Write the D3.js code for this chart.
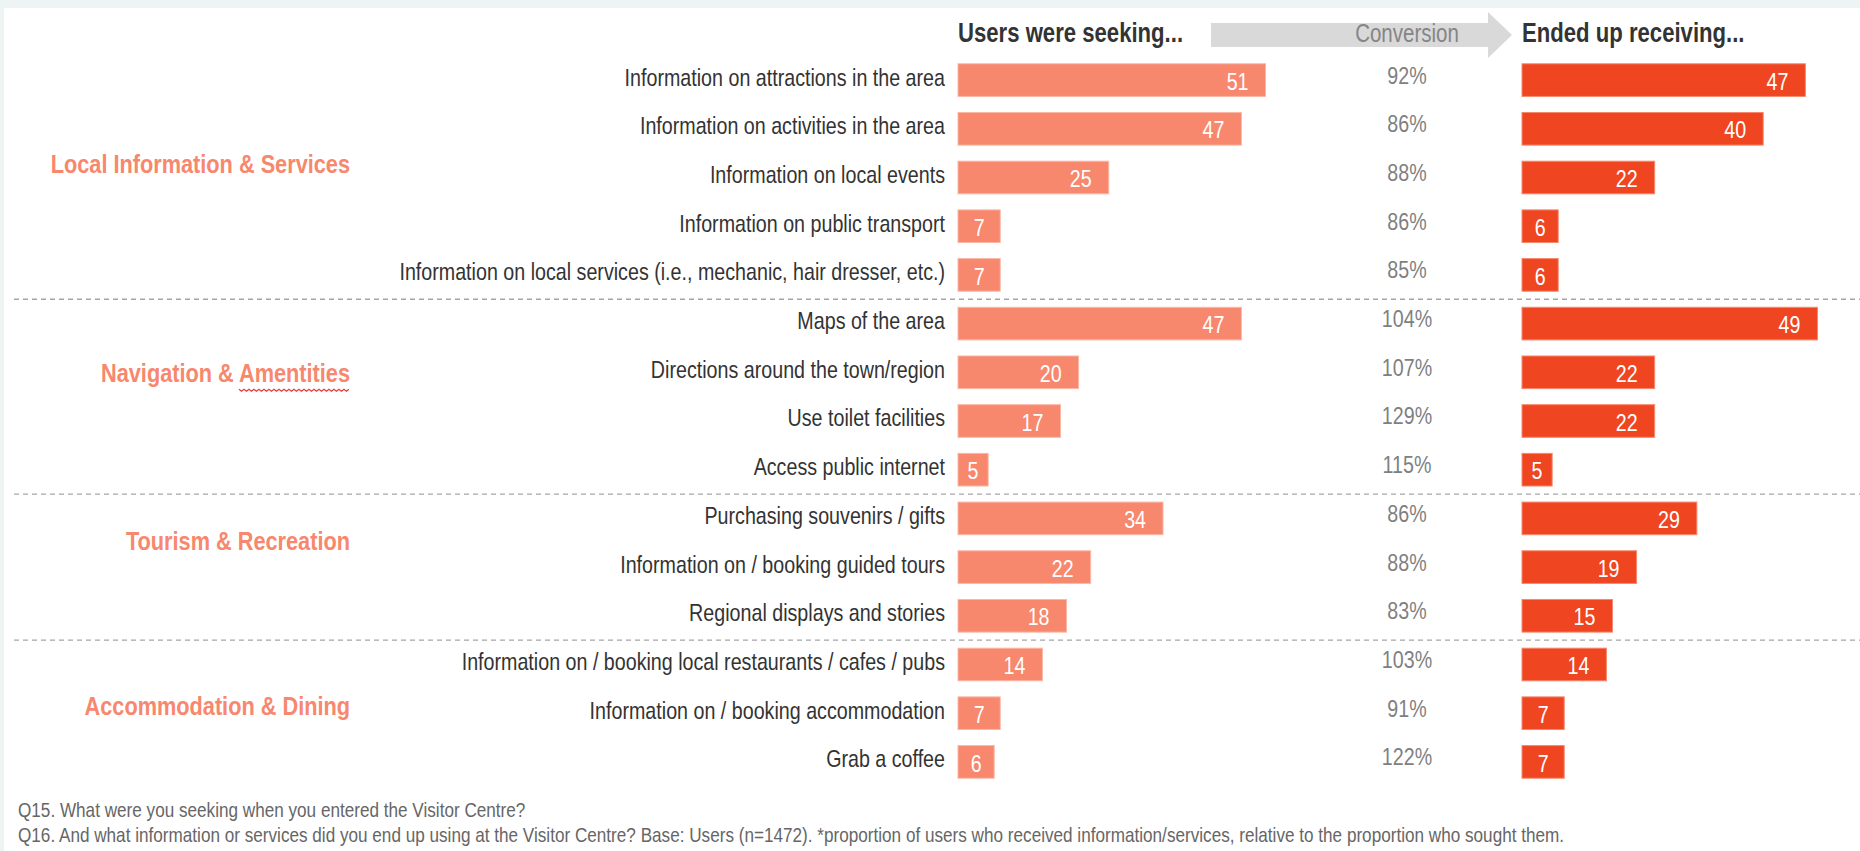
<!DOCTYPE html>
<html>
<head>
<meta charset="utf-8">
<script src="https://cdn.jsdelivr.net/npm/d3@7"></script>
<style>
  body { margin: 0; background: #fff; }
  svg text { font-family: "Liberation Sans", Arial, sans-serif; }
</style>
</head>
<body>
<div id="chart"></div>
<script>
// groups and their items
var groups = ["Local Information & Services", "Navigation & Amentities", "Tourism & Recreation", "Accommodation & Dining"];
var groupOf = [0, 0, 0, 0, 0, 1, 1, 1, 1, 2, 2, 2, 3, 3, 3];
var items = [
	"Information on attractions in the area",
	"Information on activities in the area",
	"Information on local events",
	"Information on public transport",
	"Information on local services (i.e., mechanic, hair dresser, etc.)",
	"Maps of the area",
	"Directions around the town/region",
	"Use toilet facilities",
	"Access public internet",
	"Purchasing souvenirs / gifts",
	"Information on / booking guided tours",
	"Regional displays and stories",
	"Information on / booking local restaurants / cafes / pubs",
	"Information on / booking accommodation",
	"Grab a coffee"
];
var seeking = [51, 47, 25, 7, 7, 47, 20, 17, 5, 34, 22, 18, 14, 7, 6];
var received = [47, 40, 22, 6, 6, 49, 22, 22, 5, 29, 19, 15, 14, 7, 7];
var conversion = ["92%", "86%", "88%", "86%", "85%", "104%", "107%", "129%", "115%", "86%", "88%", "83%", "103%", "91%", "122%"];
var headers = ["Users were seeking...", "Conversion", "Ended up receiving..."];
var notes = [
	"Q15. What were you seeking when you entered the Visitor Centre?",
	"Q16. And what information or services did you end up using at the Visitor Centre? Base: Users (n=1472). *proportion of users who received information/services, relative to the proportion who sought them."
];

var W = 1860, H = 851;
var seekCol = "#f7876d", recCol = "#ef4520", grpCol = "#f7876d";
var NX = 0.82; // horizontal squeeze to mimic a narrow typeface

var svg = d3.select("#chart").append("svg")
	.attr("width", W)
	.attr("height", H);

// put a text at x,y and squeeze it sideways
function place(sel, x, y) {
	return sel.attr("transform", function(d, i) {
		var xx = typeof x == "function" ? x(d, i) : x;
		var yy = typeof y == "function" ? y(d, i) : y;
		return "translate(" + xx + "," + yy + ") scale(" + NX + ",1)";
	});
}

// light frame at top and left
svg.append("rect").attr("width", W).attr("height", H).attr("fill", "#eef4f4");
svg.append("rect").attr("x", 4).attr("y", 8).attr("width", W - 4).attr("height", H - 8).attr("fill", "#fff");

var y = d3.scaleBand()
	.domain(d3.range(items.length))
	.range([56, 786])
	.paddingInner(0.33)
	.paddingOuter(0.16);

var xSeek = d3.scaleLinear().domain([0, 100]).range([958, 1561]);
var xRec = d3.scaleLinear().domain([0, 100]).range([1522, 2125]);
var convX = 1407;

// dashed separators between groups
var seps = [];
for (var i = 1; i < items.length; i++) {
	if (groupOf[i] != groupOf[i - 1]) seps.push((y(i - 1) + y.bandwidth() + y(i)) / 2);
}
svg.selectAll(".sep").data(seps).enter().append("line")
	.attr("x1", 14).attr("x2", W)
	.attr("y1", function(d) { return d; }).attr("y2", function(d) { return d; })
	.style("stroke", "#a6a6a6")
	.style("stroke-width", 1.3)
	.style("stroke-dasharray", "5,4");

// header: arrow + titles
var ah = svg.append("g");
ah.append("path")
	.attr("d", "M1211,23 L1488,23 L1488,12 L1512,35 L1488,58 L1488,47 L1211,47 Z")
	.attr("fill", "#d9d9d9");
place(ah.append("text"), 958, 42)
	.attr("font-size", 27).attr("font-weight", "bold").attr("fill", "#333")
	.text(headers[0]);
place(ah.append("text"), convX, 42).attr("text-anchor", "middle")
	.attr("font-size", 25).attr("fill", "#858585")
	.text(headers[1]);
place(ah.append("text"), 1522, 42)
	.attr("font-size", 27).attr("font-weight", "bold").attr("fill", "#333")
	.text(headers[2]);

var row = svg.selectAll(".row")
	.data(items)
	.enter().append("g")
	.attr("class", "row")
	.attr("transform", function(d, i) { return "translate(0," + y(i) + ")"; });

var bh = y.bandwidth();

place(row.append("text"), 945, bh / 2 - 3)
	.attr("dy", "0.35em")
	.attr("text-anchor", "end")
	.attr("font-size", 24).attr("fill", "#333")
	.text(function(d) { return d; });

function addBars(vals, xs, col, stroke) {
	row.append("rect")
		.attr("x", xs(0))
		.attr("y", 0)
		.attr("width", function(d, i) { return xs(vals[i]) - xs(0); })
		.attr("height", bh)
		.attr("fill", col)
		.attr("stroke", stroke)
		.attr("stroke-width", 1);
	place(row.append("text"), function(d, i) {
			var w = xs(vals[i]) - xs(0);
			return w < 45 ? xs(0) + w / 2 : xs(vals[i]) - 17;
		}, bh / 2 + 1)
		.attr("dy", "0.36em")
		.attr("text-anchor", function(d, i) { return xs(vals[i]) - xs(0) < 45 ? "middle" : "end"; })
		.attr("font-size", 24).attr("fill", "#fff")
		.text(function(d, i) { return vals[i]; });
}
addBars(seeking, xSeek, seekCol, "#fbb7a6");
addBars(received, xRec, recCol, "#f6886c");

place(row.append("text"), convX, bh / 2 - 5)
	.attr("dy", "0.35em")
	.attr("text-anchor", "middle")
	.attr("font-size", 24).attr("fill", "#7f7f7f")
	.text(function(d, i) { return conversion[i]; });

// group labels (row position where each label sits)
var labelRow = [1.72, 6.0, 9.45, 12.85];
var gl = place(svg.selectAll(".grp").data(groups).enter().append("text"), 350,
		function(d, i) { return y(0) + bh / 2 + labelRow[i] * y.step(); })
	.attr("class", "grp")
	.attr("dy", "0.35em")
	.attr("text-anchor", "end")
	.attr("font-size", 26.5).attr("font-weight", "bold").attr("fill", grpCol)
	.text(function(d) { return d; });

// spell-check squiggle under "Amentities"
var navNode = gl.filter(function(d, i) { return i == 1; }).node();
var full = navNode.getComputedTextLength() * NX;
var start = navNode.getSubStringLength(0, groups[1].indexOf("Amentities")) * NX;
var sx = 350 - full + start, ex = 350, sy = y(0) + bh / 2 + labelRow[1] * y.step() + 17;
var pts = [];
for (var px = sx, k = 0; px <= ex; px += 2.5, k++) pts.push([px, sy + (k % 2 ? 2 : 0)]);
svg.append("path").attr("d", d3.line()(pts)).attr("fill", "none").attr("stroke", "#e23c3c").attr("stroke-width", 1.2);

// footnotes
place(svg.selectAll(".note").data(notes).enter().append("text"), 18,
		function(d, i) { return 817 + i * 25; })
	.attr("font-size", 20.9).attr("fill", "#666")
	.text(function(d) { return d; });
</script>
</body>
</html>
